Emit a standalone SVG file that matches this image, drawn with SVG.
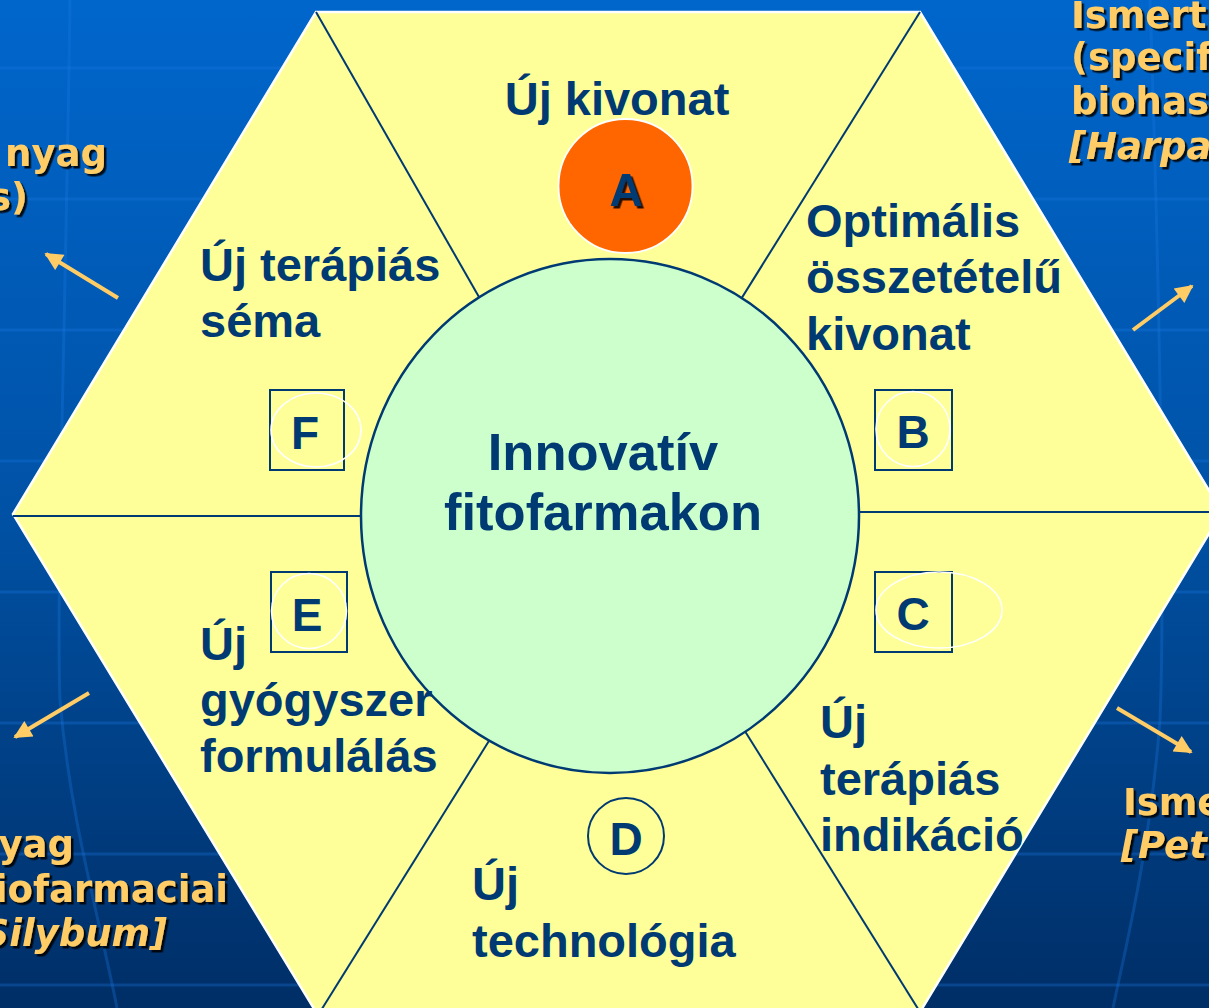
<svg xmlns="http://www.w3.org/2000/svg" width="1209" height="1008" viewBox="0 0 1209 1008">
  <defs>
    <linearGradient id="bg" x1="0" y1="0" x2="0" y2="1">
      <stop offset="0" stop-color="#0066CC"/>
      <stop offset="0.5" stop-color="#0052A6"/>
      <stop offset="1" stop-color="#002E66"/>
    </linearGradient>
    <filter id="shadow" x="-10%" y="-10%" width="130%" height="130%">
      <feDropShadow dx="2.5" dy="2.5" stdDeviation="0.4" flood-color="#000000" flood-opacity="0.85"/>
    </filter>
    <marker id="arr" viewBox="0 0 10 10" refX="9" refY="5" markerWidth="5" markerHeight="4.5" orient="auto" markerUnits="strokeWidth">
      <path d="M0,0 L10,5 L0,10 Z" fill="#FFCC66"/>
    </marker>
    <style>
      .lbl { font-family: "Liberation Sans", Arial, sans-serif; font-weight: bold; font-size: 47px; fill: #003A73; }
      .ctr { font-family: "Liberation Sans", Arial, sans-serif; font-weight: bold; font-size: 52.5px; fill: #003A73; }
      .let { font-family: "Liberation Sans", Arial, sans-serif; font-weight: bold; font-size: 46px; fill: #003A73; text-anchor: middle; }
      .side { font-family: "DejaVu Sans", Verdana, sans-serif; font-weight: bold; font-size: 37px; fill: #FFCC66; filter: url(#shadow); }
      .it { font-style: italic; }
      .div { stroke: #003A73; stroke-width: 2; fill: none; }
      .box { stroke: #003A73; stroke-width: 2; fill: none; }
      .wring { stroke: #FFFFFF; stroke-width: 1.6; fill: none; }
      .arrow { stroke: #FFCC66; stroke-width: 4; fill: none; marker-end: url(#arr); }
      .grid { stroke: #1A7AE6; stroke-width: 3; opacity: 0.3; fill: none; }
    </style>
  </defs>

  <g id="background">
    <rect x="0" y="0" width="1209" height="1008" fill="url(#bg)"/>
    <path class="grid" d="M0,68 H1209 M0,199 H1209 M0,330 H1209 M0,461 H1209 M0,592 H1209 M0,723 H1209 M0,854 H1209 M0,985 H1209"/>
    <path class="grid" d="M70,0 C66,300 56,600 60,700 C70,820 100,920 117,1008"/>
    <path class="grid" d="M1150,0 C1160,300 1165,600 1160,720 C1150,850 1125,950 1113,1008"/>
  </g>

  <g id="hexagon">
    <polygon points="316,12 920,12 1222,512 920,1012 316,1012 13,514" fill="#FFFF99" stroke="#FFFFFF" stroke-width="2.5"/>
  </g>

  <g id="connectors">
    <line class="div" x1="13" y1="516" x2="620" y2="516"/>
    <line class="div" x1="600" y1="512" x2="1222" y2="512"/>
    <line class="div" x1="316" y1="12" x2="495" y2="325"/>
    <line class="div" x1="920" y1="12" x2="728" y2="320"/>
    <line class="div" x1="320" y1="1012" x2="502" y2="720"/>
    <line class="div" x1="920" y1="1012" x2="733" y2="712"/>
    <line class="arrow" x1="118" y1="298" x2="46" y2="254"/>
    <line class="arrow" x1="1133" y1="330" x2="1192" y2="286"/>
    <line class="arrow" x1="89" y1="693" x2="15" y2="737"/>
    <line class="arrow" x1="1117" y1="708" x2="1191" y2="752"/>
  </g>

  <g id="center">
    <ellipse cx="610" cy="516" rx="249" ry="257" fill="#CCFFCC" stroke="#003A73" stroke-width="2.5"/>
    <text class="ctr" x="603" y="470" text-anchor="middle">Innovatív</text>
    <text class="ctr" x="603" y="530" text-anchor="middle">fitofarmakon</text>
  </g>

  <g id="nodeA">
    <text class="lbl" x="617" y="115" text-anchor="middle">Új kivonat</text>
    <circle cx="625.5" cy="186" r="67" fill="#FF6600" stroke="#FFFFFF" stroke-width="1.8"/>
    <text class="let" x="626" y="206" filter="url(#shadow)">A</text>
  </g>

  <g id="nodeB">
    <text class="lbl" x="806" y="237">Optimális</text>
    <text class="lbl" x="806" y="293">összetételű</text>
    <text class="lbl" x="806" y="350">kivonat</text>
    <rect class="box" x="875" y="390" width="77" height="80"/>
    <ellipse class="wring" cx="913" cy="429" rx="37" ry="37.5"/>
    <text class="let" x="913" y="448">B</text>
  </g>

  <g id="nodeC">
    <rect class="box" x="875" y="572" width="77" height="80"/>
    <ellipse class="wring" cx="939" cy="610" rx="63" ry="38"/>
    <text class="let" x="913" y="630">C</text>
    <text class="lbl" x="820" y="738">Új</text>
    <text class="lbl" x="820" y="795">terápiás</text>
    <text class="lbl" x="820" y="851">indikáció</text>
  </g>

  <g id="nodeD">
    <circle cx="626" cy="836" r="38" fill="none" stroke="#003A73" stroke-width="2"/>
    <text class="let" x="626" y="855">D</text>
    <text class="lbl" x="472" y="900">Új</text>
    <text class="lbl" x="472" y="957">technológia</text>
  </g>

  <g id="nodeE">
    <rect class="box" x="271" y="572" width="76" height="80"/>
    <ellipse class="wring" cx="309" cy="611" rx="37.5" ry="37.5"/>
    <text class="let" x="307" y="631">E</text>
    <text class="lbl" x="200" y="660">Új</text>
    <text class="lbl" x="200" y="716">gyógyszer</text>
    <text class="lbl" x="200" y="772">formulálás</text>
  </g>

  <g id="nodeF">
    <text class="lbl" x="200" y="281">Új terápiás</text>
    <text class="lbl" x="200" y="337">séma</text>
    <rect class="box" x="270" y="390" width="74" height="80"/>
    <ellipse class="wring" cx="316" cy="430" rx="45" ry="37"/>
    <text class="let" x="305" y="449">F</text>
  </g>

  <g id="note-top-left">
    <text class="side" x="107" y="166" text-anchor="end">nyag</text>
    <text class="side" x="28" y="210" text-anchor="end">s)</text>
  </g>

  <g id="note-top-right">
    <text class="side" x="1071" y="28">Ismert</text>
    <text class="side" x="1071" y="70">(specif</text>
    <text class="side" x="1071" y="114">biohas</text>
    <text class="side it" x="1069" y="159">[Harpa</text>
  </g>

  <g id="note-bottom-left">
    <text class="side" x="74" y="857" text-anchor="end">yag</text>
    <text class="side" x="228" y="902" text-anchor="end">iofarmaciai</text>
    <text class="side it" x="167" y="946" text-anchor="end">Silybum]</text>
  </g>

  <g id="note-bottom-right">
    <text class="side" x="1123" y="815">Isme</text>
    <text class="side it" x="1121" y="858">[Pet</text>
  </g>
</svg>
